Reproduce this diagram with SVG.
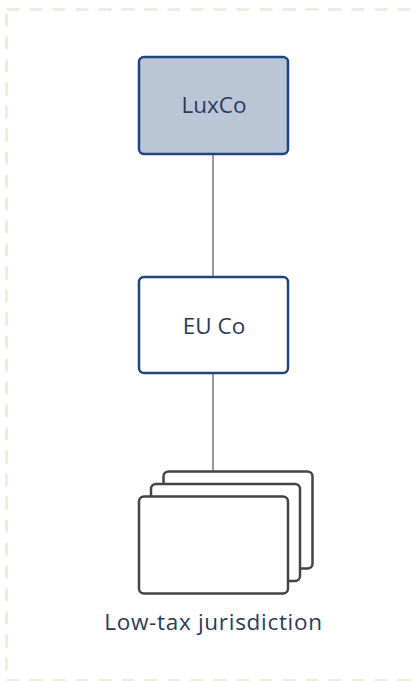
<svg xmlns="http://www.w3.org/2000/svg" width="419" height="681" viewBox="0 0 419 681">
<style>
.lbl{font-family:"Open Sans","Noto Sans",sans-serif;font-size:22.5px;fill:#2b3a5c;text-anchor:middle}
.ent{stroke:#1f4480;stroke-width:2.5}
.stk{fill:#fff;stroke:#444;stroke-width:2.5}
.conn{stroke:#333;stroke-width:1;fill:none}
</style>
<rect x="6.5" y="9.5" width="430" height="671" fill="none" stroke="#eeebe0" stroke-width="3" stroke-dasharray="13 10"/>
<g id="connectors">
<line class="conn" x1="213" y1="154" x2="213" y2="276"/>
<line class="conn" x1="213" y1="373" x2="213" y2="471"/>
</g>
<g id="luxco">
<rect class="ent" x="139" y="57" width="149" height="97" rx="5" fill="#bac6d6"/>
<text class="lbl" x="214" y="113">LuxCo</text>
</g>
<g id="euco">
<rect class="ent" x="139" y="277" width="149" height="96" rx="5" fill="#fff"/>
<text class="lbl" x="214" y="334">EU Co</text>
</g>
<g id="lowtax">
<rect class="stk" x="163.5" y="471.5" width="149" height="97" rx="5"/>
<rect class="stk" x="151" y="484" width="149" height="97" rx="5"/>
<rect class="stk" x="139" y="496.5" width="149" height="97" rx="5"/>
<text class="lbl" x="213.5" y="630" letter-spacing="0.7">Low-tax jurisdiction</text>
</g>
</svg>
